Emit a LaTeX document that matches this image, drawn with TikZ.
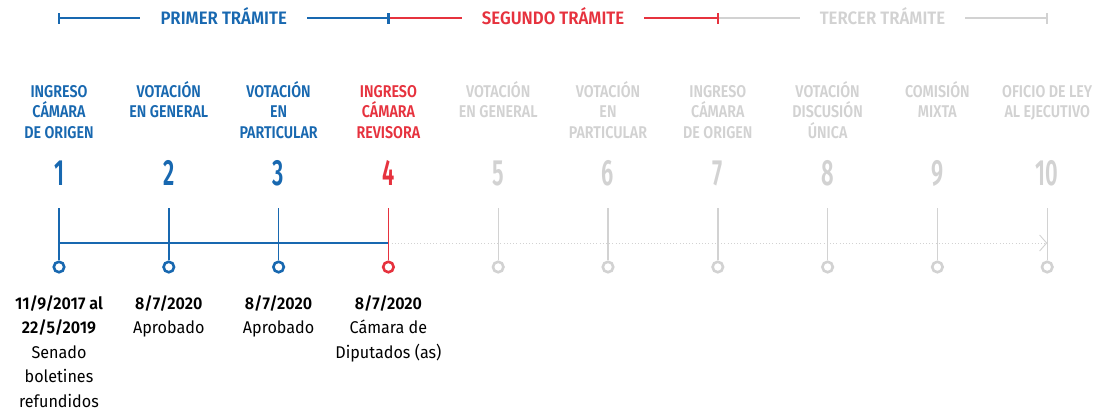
\documentclass[tikz,border=0pt]{standalone}
\usepackage{fontspec}
\setmainfont{Fira Sans}[BoldFont={Fira Sans SemiBold}]
\newfontfamily\headfont{Fira Sans}[FakeStretch=0.84,BoldFont={Fira Sans SemiBold}]
\newfontfamily\phasefont{Fira Sans}[FakeStretch=0.93,BoldFont={Fira Sans SemiBold}]
\newfontfamily\numfont{Fira Sans}[FakeStretch=0.6,BoldFont={Fira Sans SemiBold}]
\newfontfamily\datefont{Fira Sans}[FakeStretch=0.95,BoldFont={Fira Sans SemiBold}]
\usetikzlibrary{arrows.meta}
\definecolor{LeyBlue}{HTML}{1868B0}
\definecolor{LeyRed}{HTML}{E6323E}
\definecolor{LeyGray}{HTML}{D2D2D2}
\newcommand{\toprule}{\rule{0pt}{18pt}}

\begin{document}
\begin{tikzpicture}[x=1pt, y=-1pt, >=Stealth,
    head/.style={font=\headfont\fontsize{17}{20.5}\selectfont\bfseries, align=center, anchor=north, inner sep=0pt},
    num/.style={font=\numfont\fontsize{36.5}{36.5}\selectfont\bfseries, anchor=base, inner sep=0pt},
    dot/.style={circle, draw=#1, line width=2.6pt, fill=white, minimum size=10.5pt, inner sep=0pt},
    stem/.style={line width=1.4pt},
    date/.style={font=\datefont\fontsize{17}{24.5}\selectfont, align=center, anchor=north, inner sep=0pt},
    phase/.style={font=\phasefont\fontsize{18}{18}\selectfont\bfseries, anchor=base, inner xsep=20pt, inner ysep=0pt},
    tick/.style={line width=2.4pt}]

    \useasboundingbox (0,0) rectangle (1111,416);

    % ========== TOP: phases ==========
    \coordinate (b1) at (59,18);
    \coordinate (b2) at (388.4,18);
    \coordinate (b3) at (717.8,18);
    \coordinate (b4) at (1047.2,18);

    \node[phase, LeyBlue] (p1) at (223.7,24.5) {PRIMER TRÁMITE};
    \node[phase, LeyRed] (p2) at (553.1,24.5) {SEGUNDO TRÁMITE};
    \node[phase, LeyGray] (p3) at (882.5,24.5) {TERCER TRÁMITE};

    \draw[stem, LeyBlue] (b1) -- (p1.west |- b1);
    \draw[stem, LeyBlue] (p1.east |- b1) -- (b2);
    \draw[stem, LeyRed] (b2) -- (p2.west |- b2);
    \draw[stem, LeyRed] (p2.east |- b2) -- (b3);
    \draw[stem, LeyGray] (b3) -- (p3.west |- b3);
    \draw[stem, LeyGray] (p3.east |- b3) -- (b4);

    \draw[tick, LeyBlue] ([yshift=-5.5pt]b1) -- ([yshift=5.5pt]b1);
    \draw[tick, LeyBlue] ([yshift=-5.5pt]b2) -- ([yshift=5.5pt]b2);
    \draw[tick, LeyRed] ([yshift=-5.5pt]b3) -- ([yshift=5.5pt]b3);
    \draw[tick, LeyGray] ([yshift=-5.5pt]b4) -- ([yshift=5.5pt]b4);

    % ========== Steps ==========
    \node[head, LeyBlue] (h1) at (59,79) {\toprule INGRESO\\CÁMARA\\DE ORIGEN};
    \node[head, LeyBlue] (h2) at (168.8,79) {\toprule VOTACIÓN\\EN GENERAL};
    \node[head, LeyBlue] (h3) at (278.6,79) {\toprule VOTACIÓN\\EN\\PARTICULAR};
    \node[head, LeyRed] (h4) at (388.4,79) {\toprule INGRESO\\CÁMARA\\REVISORA};
    \node[head, LeyGray] (h5) at (498.2,79) {\toprule VOTACIÓN\\EN GENERAL};
    \node[head, LeyGray] (h6) at (608,79) {\toprule VOTACIÓN\\EN\\PARTICULAR};
    \node[head, LeyGray] (h7) at (717.8,79) {\toprule INGRESO\\CÁMARA\\DE ORIGEN};
    \node[head, LeyGray] (h8) at (827.6,79) {\toprule VOTACIÓN\\DISCUSIÓN\\ÚNICA};
    \node[head, LeyGray] (h9) at (937.4,79) {\toprule COMISIÓN\\MIXTA};
    \node[head, LeyGray] (h10) at (1047.2,79) {\toprule OFICIO DE LEY\\AL EJECUTIVO};

    \node[num, LeyBlue] (n1) at (59,185) {1};
    \node[num, LeyBlue] (n2) at (168.8,185) {2};
    \node[num, LeyBlue] (n3) at (278.6,185) {3};
    \node[num, LeyRed] (n4) at (388.4,185) {4};
    \node[num, LeyGray] (n5) at (498.2,185) {5};
    \node[num, LeyGray] (n6) at (608,185) {6};
    \node[num, LeyGray] (n7) at (717.8,185) {7};
    \node[num, LeyGray] (n8) at (827.6,185) {8};
    \node[num, LeyGray] (n9) at (937.4,185) {9};
    \node[num, LeyGray] (n10) at (1047.2,185) {10};

    % Timeline
    \coordinate (m1) at (59,243);
    \coordinate (m4) at (388.4,243);
    \coordinate (m10) at (1047.2,243);
    \draw[line width=1pt, LeyGray, dash pattern=on 1pt off 2.2pt,
        -{Straight Barb[length=7pt, width=16pt, line width=0.9pt]}] (m4) -- (m10);
    \draw[stem, LeyBlue] (m1) -- (m4);

    % Stems and dots
    \node[dot=LeyBlue] (c1) at (59,267) {};
    \node[dot=LeyBlue] (c2) at (168.8,267) {};
    \node[dot=LeyBlue] (c3) at (278.6,267) {};
    \node[dot=LeyRed] (c4) at (388.4,267) {};
    \node[dot=LeyGray] (c5) at (498.2,267) {};
    \node[dot=LeyGray] (c6) at (608,267) {};
    \node[dot=LeyGray] (c7) at (717.8,267) {};
    \node[dot=LeyGray] (c8) at (827.6,267) {};
    \node[dot=LeyGray] (c9) at (937.4,267) {};
    \node[dot=LeyGray] (c10) at (1047.2,267) {};

    \draw[stem, LeyBlue] (59,208) -- (c1);
    \draw[stem, LeyBlue] (168.8,208) -- (c2);
    \draw[stem, LeyBlue] (278.6,208) -- (c3);
    \draw[stem, LeyRed] (388.4,208) -- (c4);
    \draw[stem, LeyGray] (498.2,208) -- (c5);
    \draw[stem, LeyGray] (608,208) -- (c6);
    \draw[stem, LeyGray] (717.8,208) -- (c7);
    \draw[stem, LeyGray] (827.6,208) -- (c8);
    \draw[stem, LeyGray] (937.4,208) -- (c9);
    \draw[stem, LeyGray] (1047.2,208) -- (c10);

    % ========== Dates ==========
    \node[date] (d1) at (59,291) {\toprule\textbf{11/9/2017 al}\\\textbf{22/5/2019}\\Senado\\boletines\\refundidos};
    \node[date] (d2) at (168.8,291) {\toprule\textbf{8/7/2020}\\Aprobado};
    \node[date] (d3) at (278.6,291) {\toprule\textbf{8/7/2020}\\Aprobado};
    \node[date] (d4) at (388.4,291) {\toprule\textbf{8/7/2020}\\Cámara de\\Diputados (as)};

\end{tikzpicture}
\end{document}
